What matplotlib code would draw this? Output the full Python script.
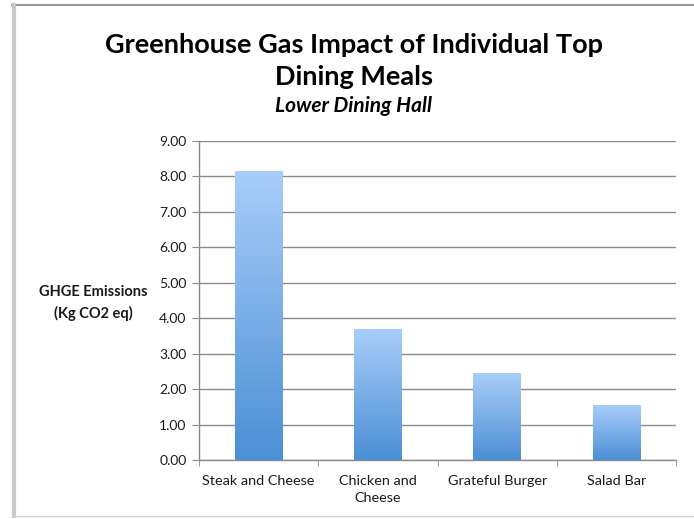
import matplotlib
matplotlib.use("Agg")
import matplotlib.pyplot as plt
import numpy as np
from matplotlib.colors import LinearSegmentedColormap
from matplotlib.lines import Line2D

categories = ["Steak and Cheese", "Chicken and\nCheese", "Grateful Burger", "Salad Bar"]
values = [8.13, 3.67, 2.45, 1.53]
yticks = [0, 1, 2, 3, 4, 5, 6, 7, 8, 9]

plt.rcParams['font.family'] = ['Lato', 'DejaVu Sans']

fig = plt.figure(figsize=(6.94, 5.19), dpi=100)
ax = fig.add_axes([199/694, 1-460/519, (676-199)/694, (460-141)/519])

x = np.arange(len(categories))
bars = ax.bar(x, values, width=0.4, color='none', edgecolor='none', zorder=3)

cmap = LinearSegmentedColormap.from_list('g', ['#4b8fd5', '#a9cdf9'])
grad = np.linspace(0, 1, 256).reshape(-1, 1)
for b in bars:
    x0, w, h = b.get_x(), b.get_width(), b.get_height()
    ax.imshow(grad, cmap=cmap, origin='lower', aspect='auto',
              extent=[x0, x0 + w, 0, h], zorder=3)

ax.set_xlim(-0.5, len(categories) - 0.5)
ax.set_ylim(0, 9)
ax.set_yticks(yticks)
ax.set_yticklabels([f"{v:.2f}" for v in yticks], fontsize=10, color='#1a1a1a')
ax.yaxis.grid(True, color='#8a8a8a', linewidth=1, zorder=1)
ax.set_axisbelow(True)

ax.set_xticks(x)
ax.set_xticklabels(categories, fontsize=10.4, color='#1a1a1a', linespacing=1.5)
ax.tick_params(axis='x', which='major', length=0, pad=11)
ax.set_xticks(np.arange(-0.5, len(categories)), minor=True)
ax.tick_params(axis='x', which='minor', length=4, color='#8a8a8a', direction='out')
ax.tick_params(axis='y', length=5, color='#8a8a8a', direction='out', pad=4)

for s in ['top', 'right']:
    ax.spines[s].set_visible(False)
for s in ['left', 'bottom']:
    ax.spines[s].set_color('#8a8a8a')
    ax.spines[s].set_linewidth(1)

cx = 354 / 694
fig.text(cx, 1-45/519, "Greenhouse Gas Impact of Individual Top", ha='center', va='center',
         fontsize=19.5, fontweight='bold', color='black')
fig.text(cx, 1-77/519, "Dining Meals", ha='center', va='center',
         fontsize=19.5, fontweight='bold', color='black')
fig.text(cx, 1-106/519, "Lower Dining Hall", ha='center', va='center',
         fontsize=15, fontweight='bold', fontstyle='italic', color='black')
fig.text(93/694, 1-303/519, "GHGE Emissions\n(Kg CO2 eq)", ha='center', va='center',
         fontsize=10.5, fontweight='bold', color='#1a1a1a', linespacing=1.5)

# frame around the chart
fig.add_artist(Line2D([12/694, 1], [1-5/519, 1-5/519], transform=fig.transFigure,
                      color='#9a9a9a', linewidth=1.5))
fig.add_artist(Line2D([13.5/694, 13.5/694], [1-5/519, 1-516/519], transform=fig.transFigure,
                      color='#c8c8c8', linewidth=3))
fig.add_artist(Line2D([12/694, 1], [1-516/519, 1-516/519], transform=fig.transFigure,
                      color='#d0d0d0', linewidth=1))

fig.savefig("out.png", dpi=100)
